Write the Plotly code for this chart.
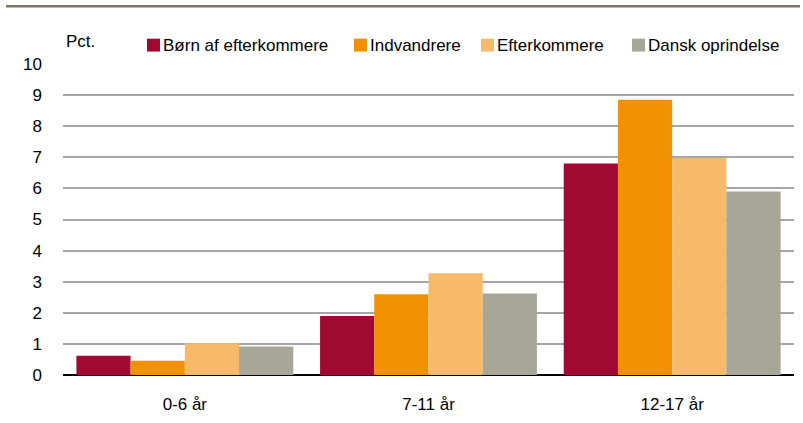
import plotly.graph_objects as go

# Age groups on the x axis
categories = ["0-6 år", "7-11 år", "12-17 år"]

# Share in percent per group of origin
series_names = ["Børn af efterkommere", "Indvandrere", "Efterkommere", "Dansk oprindelse"]
born_af_efterkommere = [0.62, 1.9, 6.8]
indvandrere = [0.46, 2.6, 8.85]
efterkommere = [1.02, 3.27, 6.98]
dansk_oprindelse = [0.92, 2.62, 5.9]
series_values = [born_af_efterkommere, indvandrere, efterkommere, dansk_oprindelse]

y_ticks = list(range(0, 11))

colors = ["#A00A32", "#F29100", "#F7BA6A", "#A8A797"]
FONT = "Liberation Sans, Arial, sans-serif"
FS = 17

fig = go.Figure()
for name, vals, col in zip(series_names, series_values, colors):
    fig.add_trace(go.Bar(
        x=categories, y=vals, name=name,
        marker=dict(color=col, line=dict(width=0)),
        showlegend=False,
    ))

W, H = 803, 423
ml, mr, mt, mb = 63, 9, 64, 46
pw = W - ml - mr
ph = H - mt - mb

fig.update_layout(
    width=W, height=H,
    margin=dict(l=ml, r=mr, t=mt, b=mb),
    paper_bgcolor="white", plot_bgcolor="white",
    barmode="group", bargap=0.11, bargroupgap=0,
    font=dict(family=FONT, size=FS, color="#000000"),
    xaxis=dict(
        showgrid=False, showline=False, zeroline=False,
        ticks="", ticklabelstandoff=17,
        tickfont=dict(size=FS),
    ),
    yaxis=dict(
        range=[0, 10], tickvals=y_ticks,
        showgrid=True, gridcolor="#A6A6A6", gridwidth=1.5,
        zeroline=True, zerolinecolor="#000000", zerolinewidth=2,
        showline=False, ticks="", ticklabelstandoff=20,
        tickfont=dict(size=FS),
    ),
)

# Rule across the top of the figure
fig.add_shape(
    type="line", xref="paper", yref="paper",
    x0=(6 - ml) / pw, x1=(800 - ml) / pw,
    y0=(H - mb - 6) / ph, y1=(H - mb - 6) / ph,
    line=dict(color="#7B7463", width=2.5),
)

# Unit label
fig.add_annotation(
    text="Pct.", xref="paper", yref="paper",
    x=(64 - ml) / pw, y=(H - mb - 41) / ph,
    xanchor="left", yanchor="middle", showarrow=False,
    font=dict(size=FS),
)

# Legend row: coloured squares followed by the series names
legend_x = [147, 354, 481, 632]
legend_y = 45
sq = 13
for name, col, lx in zip(series_names, colors, legend_x):
    fig.add_shape(
        type="rect", xref="paper", yref="paper",
        x0=(lx - ml) / pw, x1=(lx + sq - ml) / pw,
        y0=(H - mb - (legend_y + sq / 2)) / ph, y1=(H - mb - (legend_y - sq / 2)) / ph,
        fillcolor=col, line=dict(width=0),
    )
    fig.add_annotation(
        text=name, xref="paper", yref="paper",
        x=(lx + sq + 1 - ml) / pw, y=(H - mb - legend_y) / ph,
        xanchor="left", yanchor="middle", showarrow=False,
        font=dict(size=FS),
    )

fig.write_html("out.html")
